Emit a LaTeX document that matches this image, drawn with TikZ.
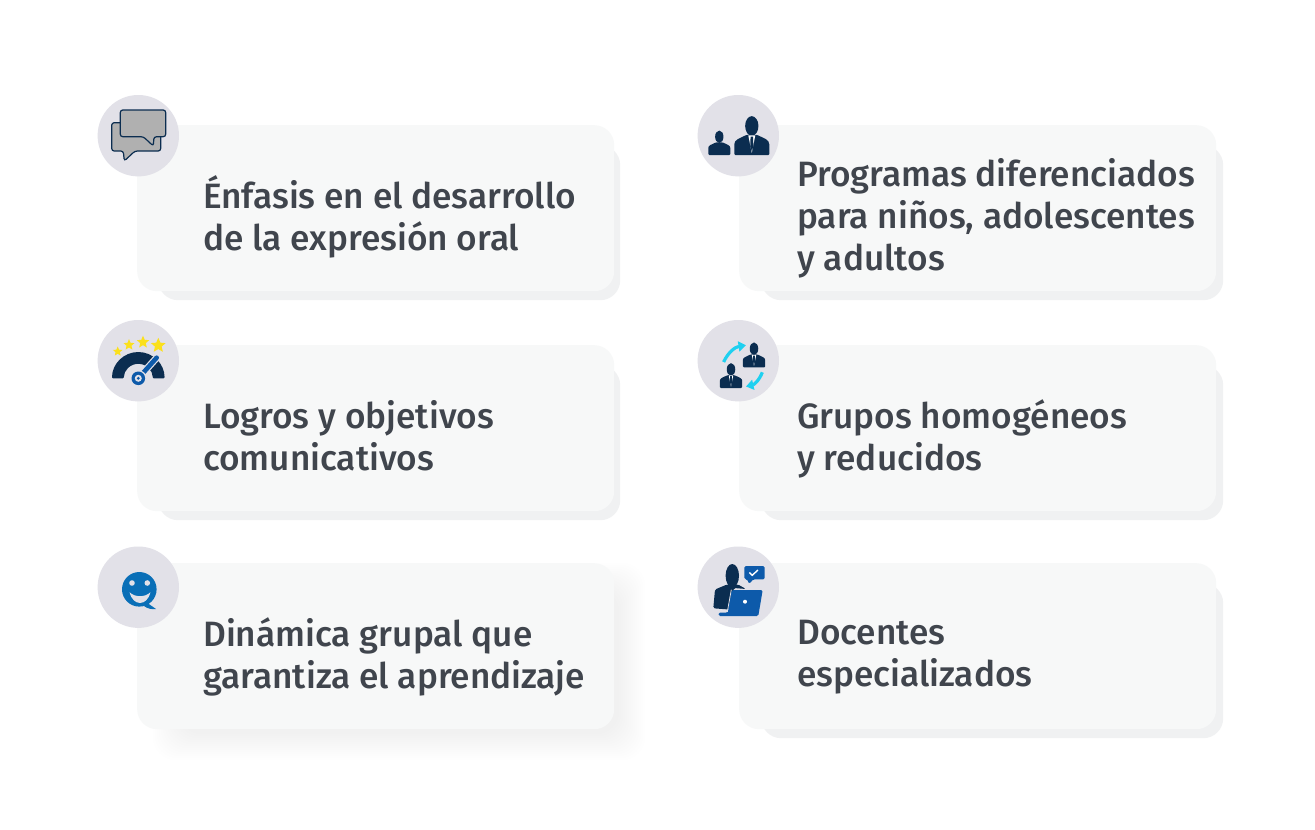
\documentclass[tikz,border=0pt]{standalone}
\usepackage{fontspec}
\setmainfont{Fira Sans Medium}
\usetikzlibrary{shapes.geometric, arrows.meta}

\definecolor{cardfill}{HTML}{F7F8F8}
\definecolor{cardback}{HTML}{F0F1F2}
\definecolor{iconback}{HTML}{E2E1E8}
\definecolor{navy}{HTML}{0B2D50}
\definecolor{midblue}{HTML}{0D5AAA}
\definecolor{smileblue}{HTML}{0A6FB7}
\definecolor{skyarrow}{HTML}{1FD0F0}
\definecolor{starfill}{HTML}{FBE01C}
\definecolor{bubblegrey}{HTML}{B0B0B0}
\definecolor{textgrey}{HTML}{40454D}

\newcommand{\personbody}{%
	\fill[navy] (0, -1.66) ellipse [x radius=.38, y radius=.56];
	\fill[navy, rounded corners=1pt] (-1, 0) -- (-1, -.55) .. controls (-1, -.88) and (-.7, -.95) .. (-.3, -1.15) -- (.3, -1.15) .. controls (.7, -.95) and (1, -.88) .. (1, -.55) -- (1, 0) -- cycle;
}

\tikzset{
person/.pic={
	\personbody
},
suit/.pic={
	\personbody
	\fill[white] (-.2, -1.12) -- (0, -.12) -- (.2, -1.12) -- cycle;
	\fill[navy] (-.07, -1.05) -- (.07, -1.05) -- (.09, -.5) -- (0, -.22) -- (-.09, -.5) -- cycle;
},
}

\begin{document}
\begin{tikzpicture}[x=1pt, y=-1pt,
cardfront/.style={rectangle, fill=cardfill, rounded corners=20pt, minimum width=477pt, minimum height=166pt, anchor=north west, inner sep=0pt},
cardrear/.style={rectangle, fill=cardback, rounded corners=20pt, minimum width=462pt, minimum height=155pt, anchor=north west, inner sep=0pt},
iconbase/.style={circle, fill=iconback, minimum size=81.4pt, inner sep=0pt},
cardtext/.style={anchor=base west, align=left, inner sep=0pt, text=textgrey, font=\fontsize{35.2}{42}\selectfont},
staricon/.style={star, star points=5, star point ratio=2.2, fill=starfill, inner sep=0pt},
bubble/.style={fill=bubblegrey, draw=navy, line width=1.2pt, rounded corners=2.5pt},
turnarrow/.style={skyarrow, line width=3.2pt, -{Triangle[length=7.5pt, width=10pt]}},
]

	\useasboundingbox (0, 0) rectangle (1315, 830);
	\fill[white] (0, 0) rectangle (1315, 830);

	% rear plates
	\node[cardrear] (rearA) at (158, 145) {};
	\node[cardrear] (rearB) at (761, 145) {};
	\node[cardrear] (rearC) at (158, 365) {};
	\node[cardrear] (rearD) at (761, 365) {};
	\node[cardrear] (rearF) at (761, 583) {};

	% soft shadow of the third card
	\foreach \s in {27, 25, ..., 1}
		\fill[black!70!blue, opacity=.003, rounded corners=22pt] (180-\s, 590-\s) rectangle (618+\s, 733+\s);

	% front plates
	\node[cardfront] (cardA) at (137, 125) {};
	\node[cardfront] (cardB) at (739, 125) {};
	\node[cardfront] (cardC) at (137, 345) {};
	\node[cardfront] (cardD) at (739, 345) {};
	\node[cardfront] (cardE) at (137, 563) {};
	\node[cardfront] (cardF) at (739, 563) {};

	\node[iconbase] (iconA) at (138.3, 135.7) {};
	\node[iconbase] (iconB) at (738.3, 135.7) {};
	\node[iconbase] (iconC) at (138.3, 360.7) {};
	\node[iconbase] (iconD) at (738.3, 360.7) {};
	\node[iconbase] (iconE) at (138.3, 587.2) {};
	\node[iconbase] (iconF) at (738.3, 587.2) {};

	% speech bubbles
	\draw[bubble] (111.7, 122.7) -- (160.7, 122.7) -- (160.7, 151) -- (135, 151) -- (124.3, 161) -- (123.3, 151) -- (111.7, 151) -- cycle;
	\draw[bubble] (120.3, 110) -- (165.7, 110) -- (165.7, 136.7) -- (154, 136.7) -- (153.3, 146) -- (143.3, 136.7) -- (120.3, 136.7) -- cycle;

	% gauge
	\fill[navy, rounded corners=1pt] (112, 378.3) arc (180:360:26.3) -- (152.8, 378.3) arc (360:180:14.5) -- cycle;
	\draw[iconback, line width=7pt, line cap=round] (138.3, 378.3) -- (156.7, 357.7);
	\draw[midblue, line width=4.6pt, line cap=round] (138.3, 378.3) -- (156.7, 357.7);
	\fill[iconback] (138.3, 378.3) circle (8.2);
	\fill[midblue] (138.3, 378.3) circle (6.8);
	\fill[iconback] (138.3, 378.3) circle (3.5);
	\fill[midblue] (138.3, 378.3) circle (1.6);
	\node[staricon, minimum size=10pt] (starA) at (117.7, 351.5) {};
	\node[staricon, minimum size=11.5pt] (starB) at (129, 344.9) {};
	\node[staricon, minimum size=13pt] (starC) at (143, 342.2) {};
	\node[staricon, minimum size=15.5pt] (starD) at (158.3, 345.5) {};

	% smiley
	\fill[smileblue] (139.3, 589.3) circle (17.3);
	\fill[smileblue] (146, 602) -- (156, 609) .. controls (152, 609.5) and (148, 609) .. (144, 606) -- cycle;
	\fill[iconback] (132, 583) circle (2.8);
	\fill[iconback] (147.3, 583) circle (2.8);
	\fill[iconback] (129.6, 592.3) .. controls (133, 606.5) and (147, 606.5) .. (150.4, 592.3) .. controls (145, 597.5) and (135, 597.5) .. (129.6, 592.3) -- cycle;

	% two people
	\pic[scale=11] at (719.3, 155) {person};
	\pic[scale=17.5] at (751.8, 155) {suit};

	% people and arrows
	\pic[scale=11.2] at (754, 367.3) {suit};
	\pic[scale=11.2] at (731, 388) {suit};
	\draw[turnarrow] (723.6, 362) to[bend left=28] (746, 345.3);
	\draw[turnarrow] (762.3, 372.3) to[bend left=28] (746, 386.5);

	% teacher with laptop
	\fill[navy] (732.3, 575.7) ellipse [x radius=6.7, y radius=11.7];
	\fill[navy, rounded corners=1.5pt] (727, 584.5) -- (715, 589.5) -- (713.3, 608.3) -- (729, 609.5) -- (734, 588) -- (746, 589) -- (738, 584.5) -- cycle;
	\fill[midblue, rounded corners=1.5pt] (731.7, 590) -- (762.7, 590) -- (758.3, 616) -- (718.5, 616) -- (718.5, 612.5) -- (727.8, 612.5) -- cycle;
	\draw[iconback, line width=.8pt] (731.3, 589.6) -- (727.3, 612);
	\fill[white] (745, 601.7) circle (2);
	\fill[midblue, rounded corners=1.5pt] (744.3, 566) -- (764.7, 566) -- (764.7, 579.3) -- (753.3, 579.3) -- (749, 584) -- (747.3, 579.3) -- (744.3, 579.3) -- cycle;
	\draw[white, line width=1.4pt] (749.3, 572.5) -- (752.2, 575.3) -- (758, 570);

	\node[cardtext] (textA) at (203, 250) {Énfasis en el desarrollo\\de la expresión oral};
	\node[cardtext] (textB) at (797, 270) {Programas diferenciados\\para niños, adolescentes\\y adultos};
	\node[cardtext] (textC) at (203, 470) {Logros y objetivos\\comunicativos};
	\node[cardtext] (textD) at (797, 470) {Grupos homogéneos\\y reducidos};
	\node[cardtext] (textE) at (203, 688) {Dinámica grupal que\\garantiza el aprendizaje};
	\node[cardtext] (textF) at (797, 686) {Docentes\\especializados};

\end{tikzpicture}
\end{document}
